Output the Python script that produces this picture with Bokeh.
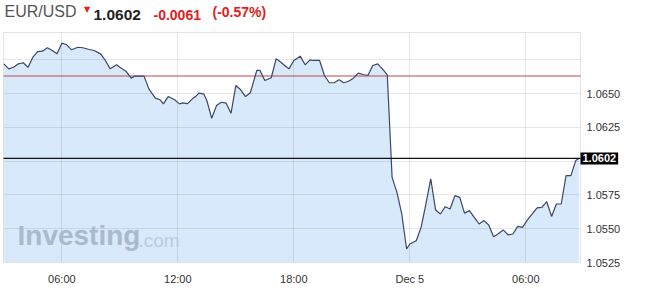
import pandas as pd
from bokeh.plotting import figure
from bokeh.models import Label, FixedTicker, PrintfTickFormatter
from bokeh.embed import file_html
from bokeh.resources import INLINE

# ---------------- data ----------------
symbol = "EUR/USD"
last_price = 1.0602
change = -0.0061
change_pct = -0.57
prev_close = 1.0663

day1 = "2016-12-04 "
day2 = "2016-12-05 "
times = [day1 + t for t in [
    "03:00", "03:15", "03:30", "03:45", "04:00", "04:15", "04:30", "04:45",
    "05:00", "05:15", "05:30", "05:45", "06:00", "06:15", "06:30", "06:50",
    "07:05", "07:25", "07:40", "08:00", "08:15", "08:30", "08:50", "09:00",
    "09:20", "09:35", "09:45", "10:00", "10:15", "10:30", "10:50", "11:05",
    "11:15", "11:30", "11:50", "12:05", "12:15", "12:30", "12:45", "12:55",
    "13:05", "13:20", "13:30", "13:45", "14:00", "14:15", "14:30", "14:45",
    "15:00", "15:15", "15:30", "15:45", "16:05", "16:15", "16:30", "16:50",
    "17:05", "17:20", "17:35", "17:45", "18:00", "18:20", "18:35", "18:50",
    "19:00", "19:20", "19:35", "19:50", "20:05", "20:20", "20:35", "20:50",
    "21:05", "21:20", "21:35", "21:50", "22:05", "22:20", "22:35", "22:50",
    "23:05", "23:20", "23:35", "23:50"]] + [day2 + t for t in [
    "00:00", "00:20", "00:35", "00:50", "01:05", "01:20", "01:35", "01:50",
    "02:05", "02:20", "02:35", "02:50", "03:05", "03:20", "03:35", "03:50",
    "04:05", "04:20", "04:30", "04:50", "05:05", "05:20", "05:35", "05:50",
    "06:05", "06:20", "06:35", "06:50", "07:05", "07:20", "07:35", "07:50",
    "08:05", "08:20", "08:35", "08:45"]]

values = [
    1.06720, 1.06683, 1.06695, 1.06720, 1.06728, 1.06695, 1.06769, 1.06811,
    1.06814, 1.06839, 1.06819, 1.06794, 1.06873, 1.06861, 1.06824, 1.06843,
    1.06839, 1.06826, 1.06819, 1.06794, 1.06745, 1.06683, 1.06713, 1.06695,
    1.06663, 1.06614, 1.06629, 1.06629, 1.06629, 1.06535, 1.06466, 1.06454,
    1.06424, 1.06478, 1.06454, 1.06424, 1.06431, 1.06426, 1.06461, 1.06478,
    1.06503, 1.06498, 1.06449, 1.06317, 1.06411, 1.06436, 1.06429, 1.06354,
    1.06560, 1.06528, 1.06478, 1.06506, 1.06671, 1.06671, 1.06597, 1.06617,
    1.06757, 1.06732, 1.06700, 1.06683, 1.06745, 1.06777, 1.06713, 1.06750,
    1.06745, 1.06745, 1.06634, 1.06580, 1.06580, 1.06602, 1.06580, 1.06591,
    1.06614, 1.06651, 1.06641, 1.06634, 1.06708, 1.06720, 1.06683, 1.06639,
    1.05880, 1.05769, 1.05609, 1.05350,
    1.05387, 1.05411, 1.05510, 1.05683, 1.05869, 1.05639, 1.05609, 1.05663,
    1.05646, 1.05745, 1.05732, 1.05614, 1.05634, 1.05584, 1.05535, 1.05560,
    1.05528, 1.05441, 1.05456, 1.05491, 1.05454, 1.05461, 1.05517, 1.05510,
    1.05565, 1.05609, 1.05654, 1.05658, 1.05700, 1.05591, 1.05683, 1.05683,
    1.05893, 1.05893, 1.06004, 1.06020]

y_ticks = [1.0525, 1.0550, 1.0575, 1.0600, 1.0625, 1.0650, 1.0675]
y_hidden = [1.0600, 1.0675]
x_tick_times = ["2016-12-04 06:00", "2016-12-04 12:00", "2016-12-04 18:00",
                "2016-12-05 00:00", "2016-12-05 06:00"]
x_tick_labels = ["06:00", "12:00", "18:00", "Dec 5", "06:00"]

# ---------------- conversion to hours ----------------
origin = pd.Timestamp("2016-12-04 00:00")
def to_hours(ts):
    return [(pd.Timestamp(t) - origin) / pd.Timedelta(hours=1) for t in ts]

xs = to_hours(times)
x_ticks = to_hours(x_tick_times)

# plotting window (data domain) and its place on the 645x300 canvas
W, H = 645, 300
x_lo, x_hi = 2.98, 32.83
y_lo, y_hi = 1.0525, 1.06952
pad_l, pad_r, pad_t, pad_b = 3, 65, 32, 38
kx = (W - pad_l - pad_r) / (x_hi - x_lo)
ky = (H - pad_t - pad_b) / (y_hi - y_lo)

FONT = "Liberation Sans"

p = figure(width=W, height=H,
           x_range=(x_lo - pad_l / kx, x_hi + pad_r / kx),
           y_range=(y_lo - pad_b / ky, y_hi + pad_t / ky),
           output_backend="svg", toolbar_location=None, y_axis_location="right",
           min_border=0)
p.title.visible = False
p.background_fill_color = "white"
p.border_fill_color = "white"
p.outline_line_color = None

# grid
p.xgrid.ticker = FixedTicker(ticks=x_ticks)
p.ygrid.ticker = FixedTicker(ticks=y_ticks)
p.xgrid.cross_bounds = (y_lo, y_hi)
p.ygrid.cross_bounds = (x_lo, x_hi)
for g in (p.xgrid[0], p.ygrid[0]):
    g.grid_line_color = "#000000"
    g.grid_line_alpha = 0.09

# area + line
area = p.varea(x=xs, y1=y_lo, y2=values, fill_color="#d9e9fc")
area.level = "image"
p.quad(left=[x_lo], right=[x_hi], bottom=[y_lo], top=[y_hi],
       fill_color=None, line_color="#e3e3e3", line_width=1)
p.segment(x0=[x_lo], x1=[x_hi], y0=[prev_close], y1=[prev_close],
          line_color="#b94a48", line_width=1)
p.line(xs, values, line_color="#3a4766", line_width=1.2)
p.segment(x0=[x_lo], x1=[x_hi], y0=[last_price], y1=[last_price],
          line_color="#111111", line_width=1.2)

# axes
for ax in (p.xaxis[0], p.yaxis[0]):
    ax.axis_line_color = None
    ax.major_tick_line_color = None
    ax.minor_tick_line_color = None
    ax.major_tick_out = 0
    ax.major_tick_in = 0
    ax.major_label_text_font = FONT
    ax.major_label_text_font_size = "11px"
    ax.major_label_text_color = "#333333"

p.yaxis.fixed_location = x_hi
p.yaxis.ticker = FixedTicker(ticks=y_ticks)
p.yaxis.formatter = PrintfTickFormatter(format="%.4f")
p.yaxis.major_label_overrides = {t: "" for t in y_hidden}
p.yaxis.major_label_standoff = 6
p.xaxis.fixed_location = y_lo
p.xaxis.ticker = FixedTicker(ticks=x_ticks)
p.xaxis.major_label_overrides = dict(zip(x_ticks, x_tick_labels))
p.xaxis.major_label_standoff = 10

# value box
p.add_layout(Label(x=x_hi, y=last_price, text=f"{last_price:.4f}",
                   text_color="white", text_font=FONT, text_font_size="11px",
                   text_font_style="bold", text_baseline="middle", text_align="left",
                   background_fill_color="black", padding=2))

# watermark (canvas pixel positions, y measured from the bottom)
p.add_layout(Label(x=17, y=H - 250, x_units="screen", y_units="screen", text="Investing",
                   text_font=FONT, text_font_size="28px", text_font_style="bold",
                   text_color="#aab9cd"))
p.add_layout(Label(x=138, y=H - 250, x_units="screen", y_units="screen", text=".com",
                   text_font=FONT, text_font_size="19px", text_color="#bccbdd"))

# header
hy = H - 19.5
p.add_layout(Label(x=4, y=hy, x_units="screen", y_units="screen", text=symbol,
                   text_font=FONT, text_font_size="16px", text_color="#555555"))
p.add_layout(Label(x=83.5, y=hy + 6, x_units="screen", y_units="screen", text="\u25bc",
                   text_font="DejaVu Sans", text_font_size="8px", text_color="#e02424"))
p.add_layout(Label(x=93, y=hy, x_units="screen", y_units="screen", text=f"{last_price:.4f}",
                   text_font=FONT, text_font_size="15.5px", text_font_style="bold",
                   text_color="#222222"))
p.add_layout(Label(x=153, y=hy, x_units="screen", y_units="screen", text=f"{change:.4f}",
                   text_font=FONT, text_font_size="14px", text_font_style="bold",
                   text_color="#dd2222"))
p.add_layout(Label(x=212, y=hy, x_units="screen", y_units="screen", text=f"({change_pct:.2f}%)",
                   text_font=FONT, text_font_size="14px", text_font_style="bold",
                   text_color="#dd2222"))

open("out.html", "w").write(file_html(p, INLINE))
